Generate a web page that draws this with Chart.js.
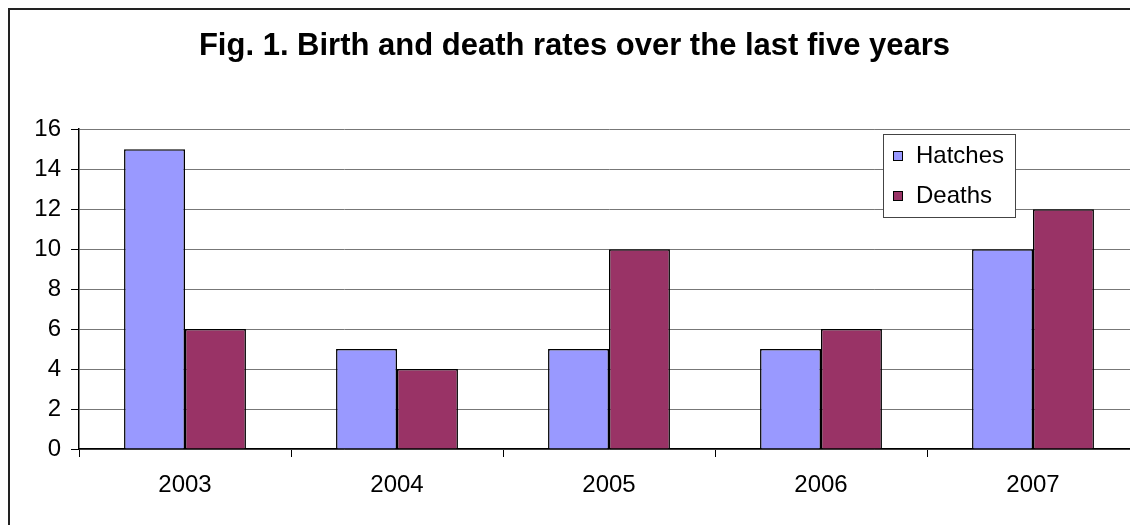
<!DOCTYPE html>
<html>
<head>
<meta charset="utf-8">
<script src="https://cdn.jsdelivr.net/npm/chart.js@4"></script>
<style>
  html, body { margin: 0; padding: 0; background: #fff; overflow: hidden; }
  #wrap { position: relative; width: 1130px; height: 525px; overflow: hidden; }
  #frame { position: absolute; left: 8px; top: 8px; border-style: solid; border-color: #222; border-width: 2px 0 0 2px; width: 1150px; height: 530px; }
  canvas { display: block; }
</style>
</head>
<body>
<div id="wrap">
  <div id="frame">
    <canvas id="chart" width="1150" height="530"></canvas>
  </div>
</div>
<script>
const years = ['2003', '2004', '2005', '2006', '2007'];
const hatches = [15, 5, 5, 5, 10];
const deaths = [6, 4, 10, 6, 12];
const seriesNames = ['Hatches', 'Deaths'];
const seriesColors = ['#9999FF', '#993366'];

Chart.defaults.font.family = '"Liberation Sans", Arial, sans-serif';
Chart.defaults.color = '#000';

// leyenda dibujada a mano dentro del area del grafico
const legendBox = {
  id: 'legendBox',
  afterDraw(chart) {
    const ctx = chart.ctx;
    const x = 873, y = 124, w = 132, h = 83;
    ctx.save();
    ctx.fillStyle = '#fff';
    ctx.fillRect(x, y, w, h);
    ctx.strokeStyle = '#444';
    ctx.lineWidth = 1;
    ctx.strokeRect(x + 0.5, y + 0.5, w, h);
    ctx.font = '24px "Liberation Sans", Arial, sans-serif';
    ctx.textBaseline = 'middle';
    chart.data.datasets.forEach((ds, i) => {
      const cy = 146 + i * 40;
      ctx.fillStyle = ds.backgroundColor;
      ctx.fillRect(883, cy - 5, 9, 9);
      ctx.strokeStyle = '#000';
      ctx.strokeRect(883.5, cy - 4.5, 9, 9);
      ctx.fillStyle = '#000';
      ctx.fillText(ds.label, 906, cy);
    });
    ctx.restore();
  }
};

new Chart(document.getElementById('chart'), {
  type: 'bar',
  data: {
    labels: years,
    datasets: [
      { label: seriesNames[0], data: hatches, backgroundColor: seriesColors[0], borderColor: '#000', borderWidth: 1.5 },
      { label: seriesNames[1], data: deaths, backgroundColor: seriesColors[1], borderColor: '#000', borderWidth: 1.5 }
    ]
  },
  options: {
    responsive: false,
    animation: false,
    categoryPercentage: 0.575,
    barPercentage: 1.0,
    layout: { padding: { left: 0, right: 21, top: 0, bottom: 0 } },
    plugins: {
      legend: { display: false },
      tooltip: { enabled: false },
      title: {
        display: true,
        text: 'Fig. 1. Birth and death rates over the last five years',
        font: { size: 31, weight: 'bold' },
        color: '#000',
        padding: { top: 18, bottom: 64 }
      }
    },
    scales: {
      x: {
        grid: { drawOnChartArea: false, tickLength: 8, tickColor: '#000', offset: true },
        border: { color: '#000', width: 1.5 },
        ticks: { font: { size: 24 }, padding: 14, color: '#000' },
        afterFit: s => { s.height = 91; }
      },
      y: {
        min: 0,
        max: 16,
        ticks: { stepSize: 2, font: { size: 24 }, padding: 10, color: '#000' },
        grid: { color: '#777', lineWidth: 1, tickLength: 8, tickColor: '#000' },
        border: { color: '#000', width: 1.5 },
        afterFit: s => { s.width = 69; }
      }
    }
  },
  plugins: [legendBox]
});
</script>
</body>
</html>
